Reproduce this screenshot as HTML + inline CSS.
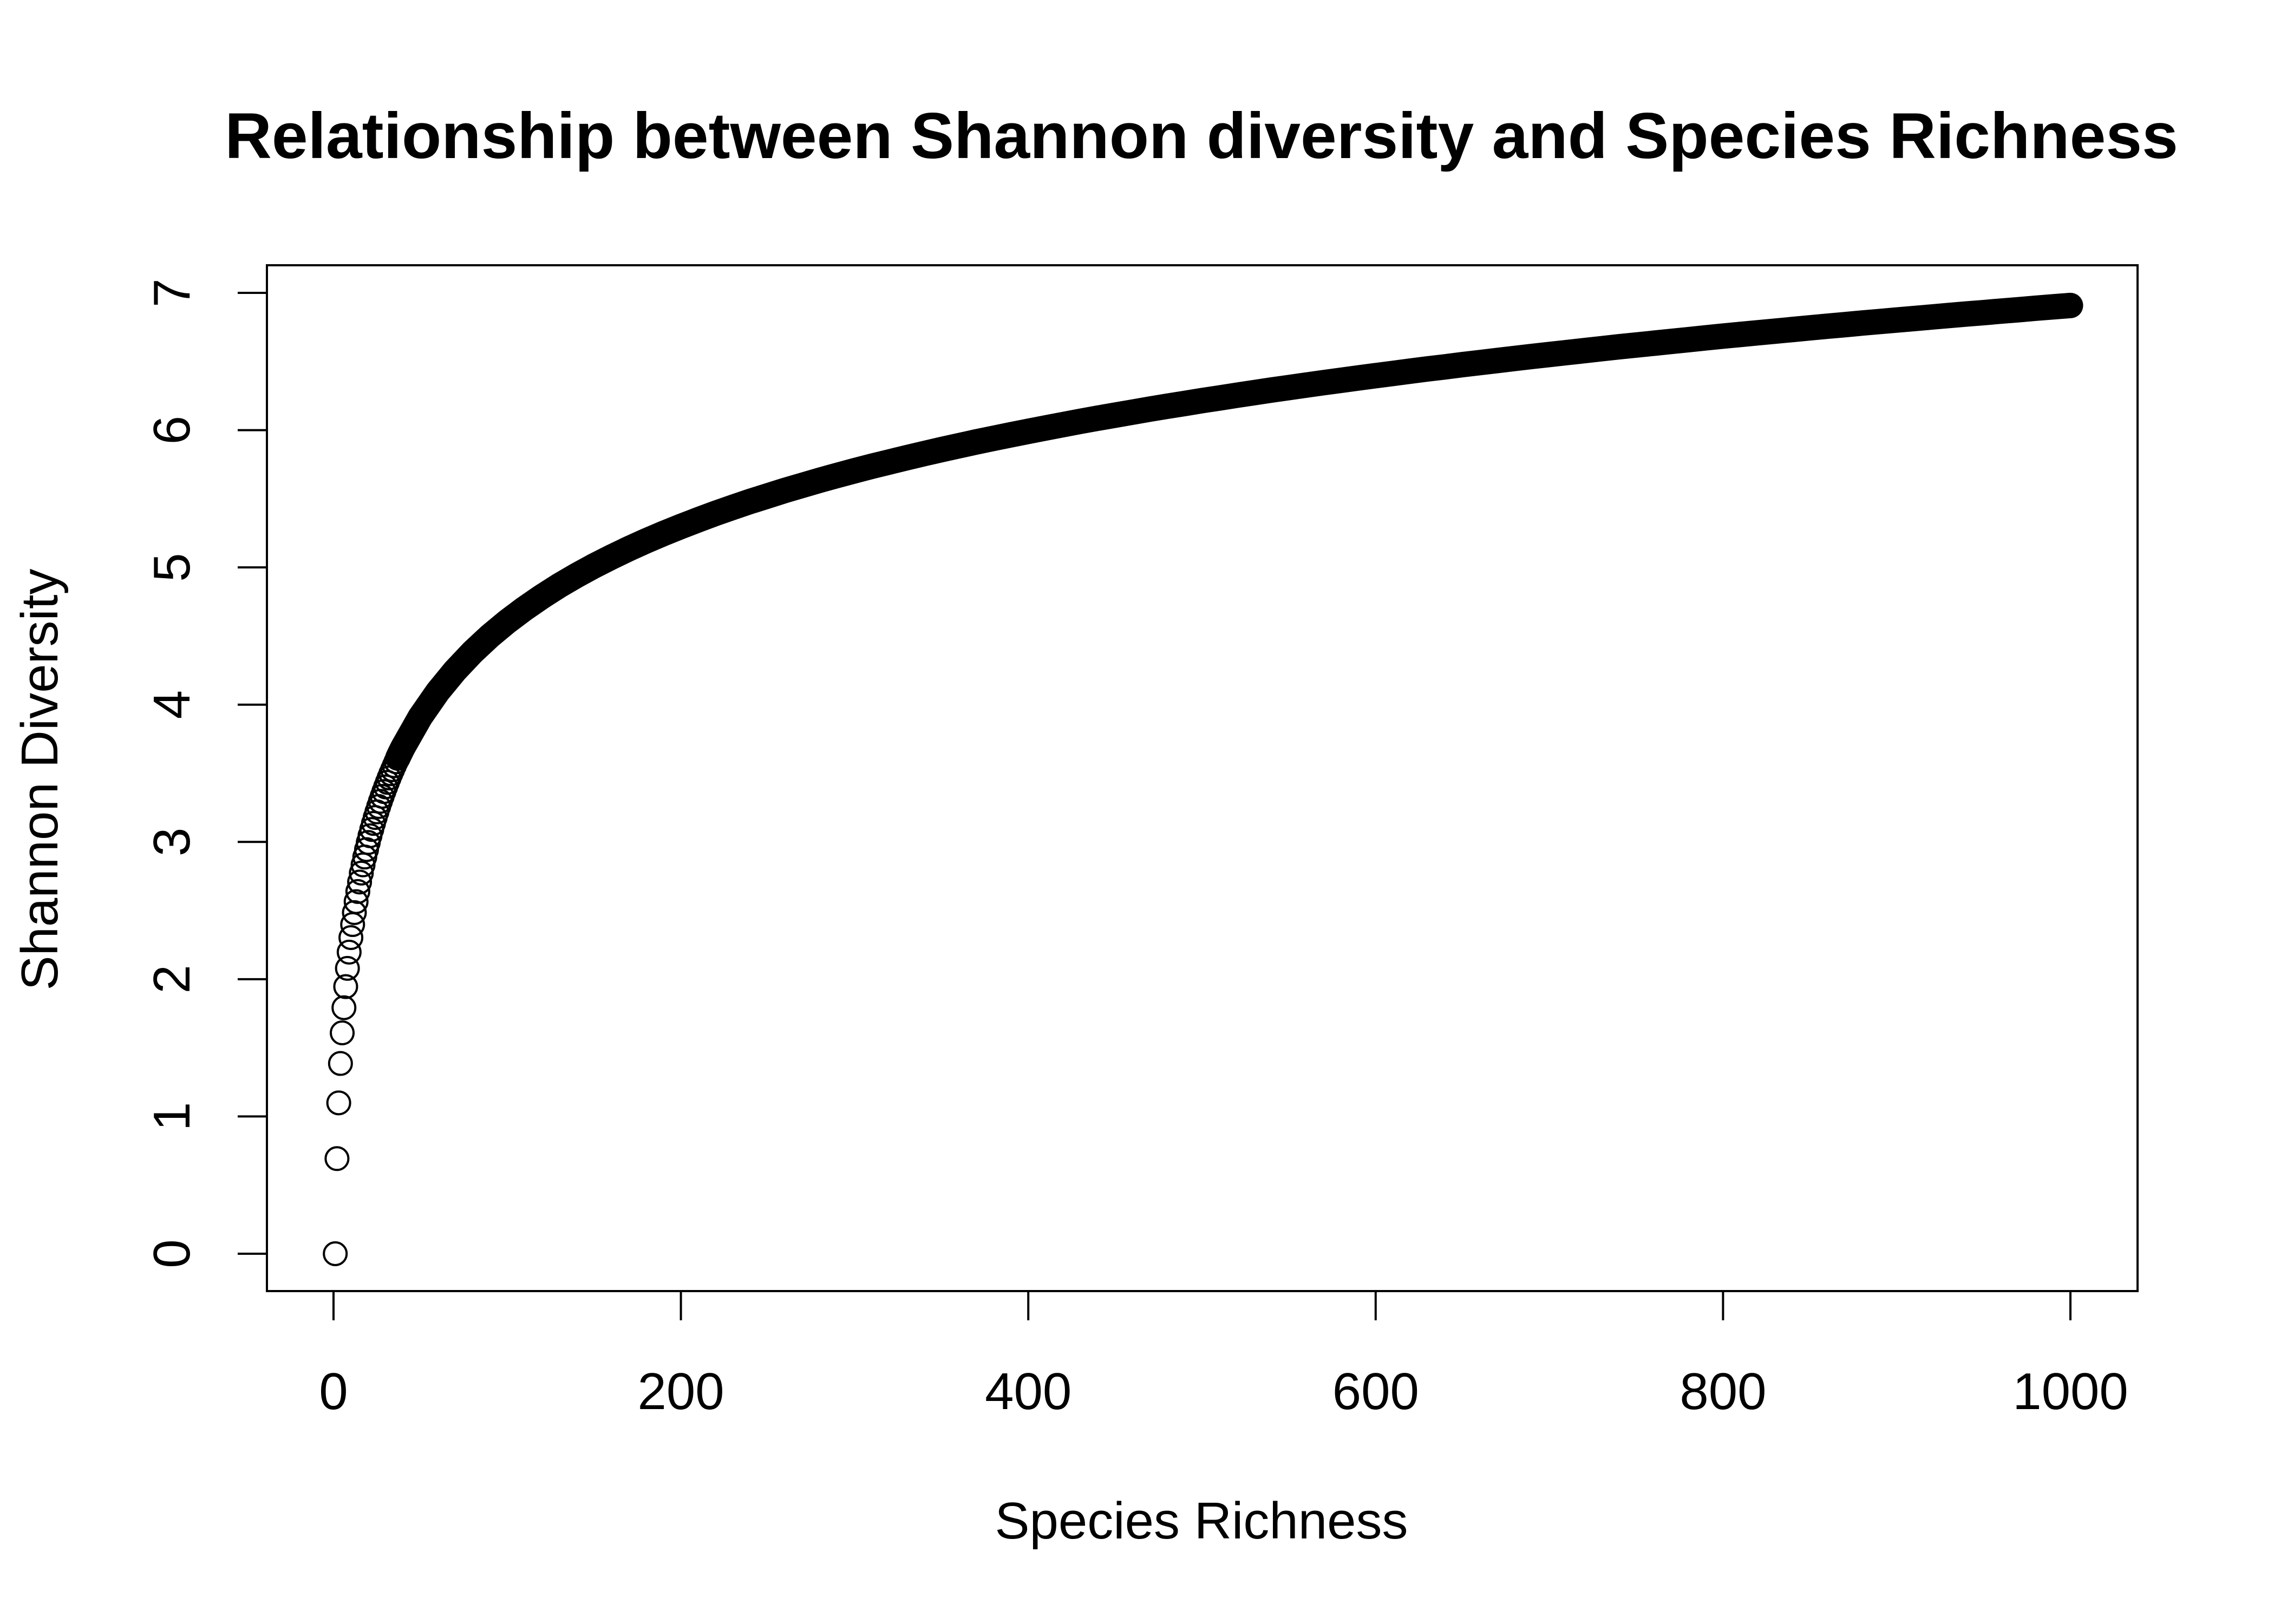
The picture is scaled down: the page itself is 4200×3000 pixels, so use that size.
<!DOCTYPE html>
<html><head><meta charset="utf-8"><style>
html,body{margin:0;padding:0;background:#fff}
svg{display:block;font-family:"Liberation Sans",Arial,sans-serif}
</style></head><body>
<svg id="chart" width="4200" height="3000" viewBox="0 0 4200 3000">
<rect width="4200" height="3000" fill="#fff"/>
<text x="2219" y="292" text-anchor="middle" font-size="120" font-weight="bold">Relationship between Shannon diversity and Species Richness</text>
<rect x="493" y="490" width="3455" height="1895" fill="none" stroke="#000" stroke-width="4"/>
<g id="xaxis"></g>
<g id="yaxis"></g>
<text x="2219" y="2842" text-anchor="middle" font-size="96">Species Richness</text>
<text x="0" y="0" transform="translate(106,1440) rotate(-90)" text-anchor="middle" font-size="96">Shannon Diversity</text>
<g id="points"></g>
</svg>
<script>
const richness = [1,2,3,4,5,6,7,8,9,10,11,12,13,14,15,16,17,18,19,20,21,22,23,24,25,26,27,28,29,30,31,32,33,34,35,36,37,38,39,40,
50,60,70,80,90,100,110,120,130,140,150,160,170,180,190,200,210,220,230,240,250,260,270,280,290,300,310,320,330,340,350,360,370,380,390,400,410,420,430,440,450,460,470,480,490,500,510,520,530,540,550,560,570,580,590,600,610,620,630,640,650,660,670,680,690,700,710,720,730,740,750,760,770,780,790,800,810,820,830,840,850,860,870,880,890,900,910,920,930,940,950,960,970,980,990,1000];
const shannon = [0,0.693,1.099,1.386,1.609,1.792,1.946,2.079,2.197,2.303,2.398,2.485,2.565,2.639,2.708,2.773,2.833,2.890,2.944,2.996,3.045,3.091,3.135,3.178,3.219,3.258,3.296,3.332,3.367,3.401,3.434,3.466,3.497,3.526,3.555,3.584,3.611,3.638,3.664,3.689,
3.912,4.094,4.248,4.382,4.500,4.605,4.700,4.787,4.868,4.942,5.011,5.075,5.136,5.193,5.247,5.298,5.347,5.394,5.438,5.481,5.521,5.561,5.598,5.635,5.670,5.704,5.737,5.768,5.799,5.829,5.858,5.886,5.914,5.940,5.966,5.991,6.016,6.040,6.064,6.087,6.109,6.131,6.153,6.174,6.194,6.215,6.234,6.254,6.273,6.292,6.310,6.328,6.346,6.363,6.380,6.397,6.413,6.430,6.446,6.461,6.477,6.492,6.507,6.522,6.537,6.551,6.565,6.579,6.593,6.607,6.620,6.633,6.646,6.659,6.672,6.685,6.697,6.709,6.721,6.733,6.745,6.757,6.768,6.780,6.791,6.802,6.813,6.824,6.835,6.846,6.856,6.867,6.877,6.888,6.898,6.908];
const xTicks = [0,200,400,600,800,1000];
const yTicks = [0,1,2,3,4,5,6,7];

const NS = "http://www.w3.org/2000/svg";
const X = v => 616 + v * (3824 - 616) / 1000;
const Y = v => 2316 - v * (2316 - 541) / 7;
function mk(tag, attrs, parent){const e=document.createElementNS(NS,tag);for(const k in attrs)e.setAttribute(k,attrs[k]);parent.appendChild(e);return e;}

const xa = document.getElementById('xaxis');
mk('line',{x1:X(xTicks[0]),x2:X(xTicks[xTicks.length-1]),y1:2385,y2:2385,stroke:'#000','stroke-width':4},xa);
xTicks.forEach(t=>{
  const l=mk('line',{x1:X(t),x2:X(t),y1:2385,y2:2439,stroke:'#000','stroke-width':4},xa);
  
  
  const tx=mk('text',{x:X(t),y:2603,'text-anchor':'middle','font-size':96},xa);
  tx.textContent=t;
  
  
});
const ya = document.getElementById('yaxis');
mk('line',{x1:493,x2:493,y1:Y(yTicks[0]),y2:Y(yTicks[yTicks.length-1]),stroke:'#000','stroke-width':4},ya);
yTicks.forEach(t=>{
  const l=mk('line',{x1:439,x2:493,y1:Y(t),y2:Y(t),stroke:'#000','stroke-width':4},ya);
  
  
  const tx=mk('text',{x:0,y:0,transform:`translate(350,${Y(t)}) rotate(-90)`,'text-anchor':'middle','font-size':96},ya);
  tx.textContent=t;
  
  
});

const pg = document.getElementById('points');
const r = 21;
let pts = [];
richness.forEach((x,i)=>{ if(x>=37) pts.push(X(x)+','+Y(shannon[i])); });
const band = mk('polyline',{points:pts.join(' '),fill:'none',stroke:'#000','stroke-width':2*r+5,'stroke-linecap':'round','stroke-linejoin':'round'},pg);


richness.forEach((x,i)=>{
  const c=mk('circle',{cx:X(x),cy:Y(shannon[i]),r:r,fill:'none',stroke:'#000','stroke-width':4},pg);
  
  
});
</script>
</body></html>
